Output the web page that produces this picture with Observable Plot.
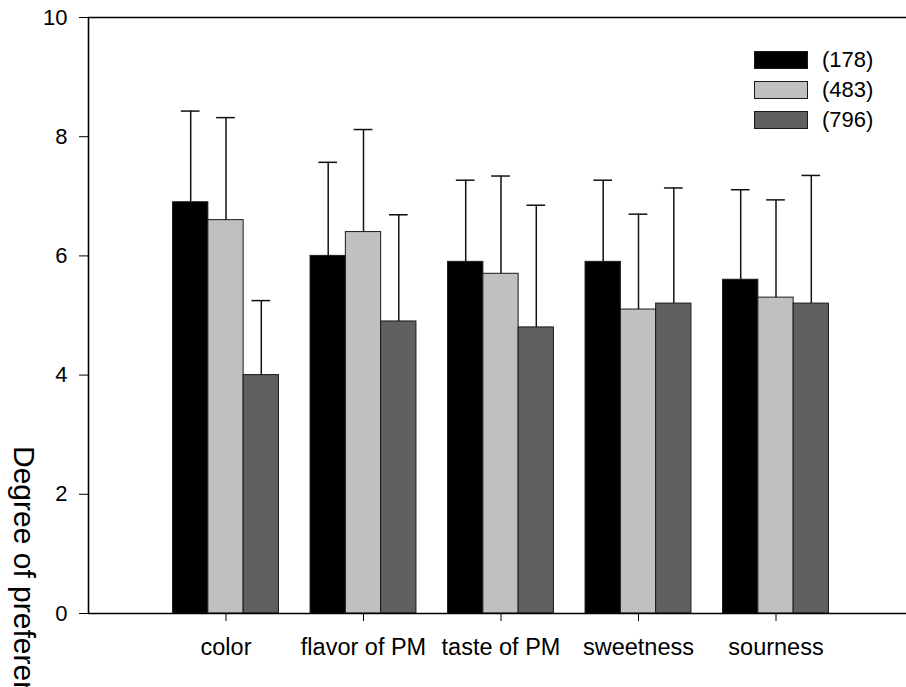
<!DOCTYPE html>
<html>
<head>
<meta charset="utf-8">
<script src="https://cdn.jsdelivr.net/npm/d3@7"></script>
<script src="https://cdn.jsdelivr.net/npm/@observablehq/plot@0.6"></script>
<style>
  html, body { margin: 0; padding: 0; background: #fff; overflow: hidden; }
  #wrap { position: relative; width: 906px; height: 687px; font-family: "Liberation Sans", Arial, sans-serif; }
  #ylabel { position: absolute; left: 39px; top: 446px; font-size: 30px; line-height: 30px; white-space: nowrap; transform: rotate(90deg); transform-origin: 0 0; color: #000; }
  #legend { position: absolute; left: 754px; top: 51px; }
  .row { display: flex; align-items: center; height: 18px; margin-bottom: 12px; }
  .sw { width: 52px; height: 16px; border: 1px solid #1a1a1a; margin-right: 14px; }
  .lt { font-size: 22px; line-height: 18px; }
</style>
</head>
<body>
<div id="wrap"></div>
<script>
const categories = ["color", "flavor of PM", "taste of PM", "sweetness", "sourness"];
const groups = ["(178)", "(483)", "(796)"];
const colors = ["#000000", "#c0c0c0", "#606060"];
const mean178 = [6.9, 6.0, 5.9, 5.9, 5.6];
const mean483 = [6.6, 6.4, 5.7, 5.1, 5.3];
const mean796 = [4.0, 4.9, 4.8, 5.2, 5.2];
const sd178 = [1.53, 1.57, 1.37, 1.37, 1.51];
const sd483 = [1.72, 1.72, 1.64, 1.60, 1.64];
const sd796 = [1.25, 1.79, 2.05, 1.94, 2.15];
const yTicks = [0, 2, 4, 6, 8, 10];

const means = [mean178, mean483, mean796];
const sds = [sd178, sd483, sd796];
const BW = 0.2567;   // bar width in category units
const CAP = 0.068;   // half cap width

const rows = [];
categories.forEach((cat, ci) => {
  groups.forEach((g, gi) => {
    const c = ci + 1 + (gi - 1) * BW;
    rows.push({cat, group: g, mean: means[gi][ci], top: means[gi][ci] + sds[gi][ci],
      x1: c - BW / 2, x2: c + BW / 2, xc: c, c1: c - CAP, c2: c + CAP});
  });
});

const chart = Plot.plot({
  width: 906,
  height: 687,
  marginLeft: 88,
  marginRight: 0,
  marginTop: 17,
  marginBottom: 74,
  style: {fontFamily: "Liberation Sans, Arial, sans-serif", fontSize: "22px", color: "#000", background: "#fff"},
  x: {type: "linear", domain: [0, 6], range: [88, 913], ticks: categories.map((d, i) => i + 1),
      tickFormat: d => categories[d - 1], tickSize: 8, tickPadding: 17, label: null},
  y: {domain: [0, 10], ticks: yTicks, tickSize: 9, tickPadding: 12, label: null},
  color: {domain: groups, range: colors},
  marks: [
    Plot.rect(rows, {x1: "x1", x2: "x2", y1: 0, y2: "mean", fill: "group", stroke: "#1a1a1a", strokeWidth: 1}),
    Plot.ruleX(rows, {x: "xc", y1: "mean", y2: "top", stroke: "#111", strokeWidth: 1.5}),
    Plot.ruleY(rows, {y: "top", x1: "c1", x2: "c2", stroke: "#111", strokeWidth: 1.5}),
    Plot.ruleY([0, 10], {stroke: "#000", strokeWidth: 1.6}),
    Plot.ruleX([0], {stroke: "#000", strokeWidth: 1.6})
  ]
});
chart.style.overflow = "hidden";
chart.querySelectorAll('g[aria-label^="x-axis"] text').forEach(t => {
  t.setAttribute("font-size", "23.5");
  t.style.fontSize = "23.5px";
});

const wrap = document.getElementById("wrap");
wrap.appendChild(chart);

const yl = document.createElement("div");
yl.id = "ylabel";
yl.textContent = "Degree of preference";
wrap.appendChild(yl);

const lg = document.createElement("div");
lg.id = "legend";
groups.forEach((g, i) => {
  const r = document.createElement("div");
  r.className = "row";
  const s = document.createElement("div");
  s.className = "sw";
  s.style.background = colors[i];
  const t = document.createElement("span");
  t.className = "lt";
  t.textContent = g;
  r.appendChild(s); r.appendChild(t);
  lg.appendChild(r);
});
wrap.appendChild(lg);
</script>
</body>
</html>
